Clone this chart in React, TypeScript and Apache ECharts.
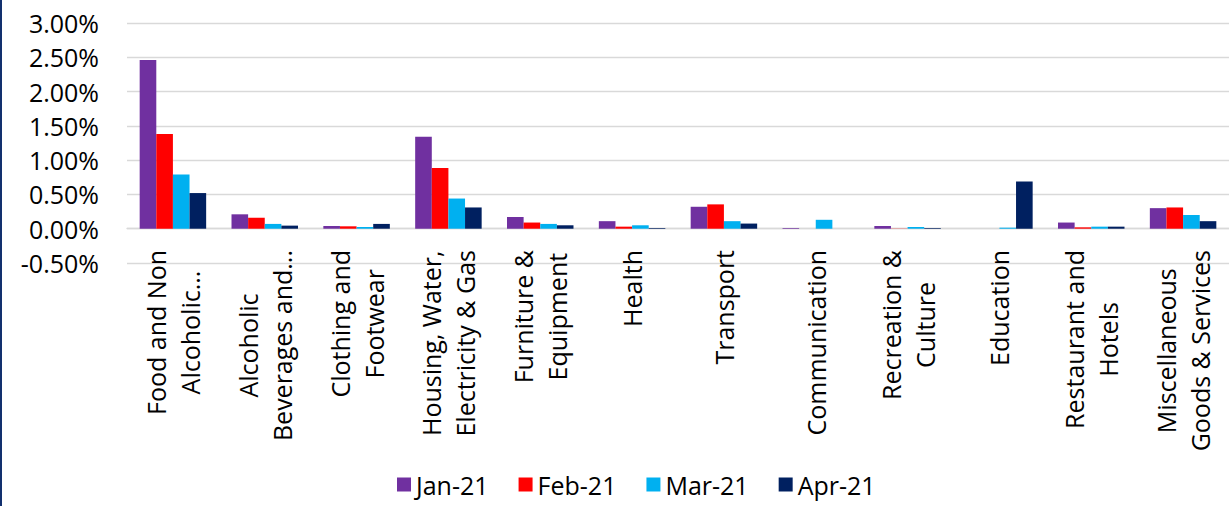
import React, { useEffect, useRef } from "react";
import * as echarts from "echarts";

// Consumer price categories (two-line labels are split on "\n")
const categories: string[] = [
  "Food and Non\nAlcoholic...",
  "Alcoholic\nBeverages and...",
  "Clothing and\nFootwear",
  "Housing, Water,\nElectricity & Gas",
  "Furniture &\nEquipment",
  "Health",
  "Transport",
  "Communication",
  "Recreation &\nCulture",
  "Education",
  "Restaurant and\nHotels",
  "Miscellaneous\nGoods & Services",
];

// Monthly change, in percent
const jan21: number[] = [2.46, 0.21, 0.04, 1.34, 0.17, 0.11, 0.32, 0.01, 0.04, 0, 0.09, 0.3];
const feb21: number[] = [1.38, 0.16, 0.035, 0.885, 0.09, 0.03, 0.355, 0, 0.003, 0, 0.02, 0.31];
const mar21: number[] = [0.79, 0.07, 0.025, 0.44, 0.07, 0.05, 0.11, 0.13, 0.025, 0.015, 0.03, 0.2];
const apr21: number[] = [0.52, 0.045, 0.07, 0.31, 0.05, 0.01, 0.075, 0, 0.01, 0.69, 0.03, 0.11];

const seriesNames: string[] = ["Jan-21", "Feb-21", "Mar-21", "Apr-21"];
const seriesColors: string[] = ["#7030A0", "#FF0000", "#00B0F0", "#002060"];

const FONT = "'Open Sans', 'Noto Sans', sans-serif";

export default function App() {
  const ref = useRef<HTMLDivElement>(null);

  useEffect(() => {
    if (!ref.current) return;
    const chart = echarts.init(ref.current, null, { renderer: "svg" });
    const values = [jan21, feb21, mar21, apr21];

    chart.setOption({
      animation: false,
      backgroundColor: "#ffffff",
      textStyle: { fontFamily: FONT },
      grid: { left: 127, top: 23, width: 1116, height: 240, containLabel: false },
      legend: {
        left: 392,
        top: 467,
        itemWidth: 14,
        itemHeight: 14,
        itemGap: 30,
        icon: "rect",
        data: seriesNames,
        textStyle: { fontFamily: FONT, fontSize: 25, color: "#000000" },
      },
      xAxis: {
        type: "category",
        data: categories,
        axisLine: { show: true, onZero: true, lineStyle: { color: "#d9d9d9", width: 1.3 } },
        axisTick: { show: false },
        axisLabel: {
          interval: 0,
          rotate: 90,
          margin: -13,
          color: "#000000",
          fontFamily: FONT,
          fontSize: 25,
          lineHeight: 34,
          formatter: (v: string) =>
            v
              .split("\n")
              .map((line) => `{c|${line}}`)
              .join("\n"),
          rich: {
            c: { align: "center", fontFamily: FONT, fontSize: 25, lineHeight: 34, color: "#000000" },
          },
        },
      },
      yAxis: {
        type: "value",
        min: -0.5,
        max: 3,
        interval: 0.5,
        axisLine: { show: false },
        axisTick: { show: false },
        splitLine: { lineStyle: { color: "#d9d9d9", width: 1.3 } },
        axisLabel: {
          margin: 28,
          color: "#000000",
          fontFamily: FONT,
          fontSize: 25,
          formatter: (v: number) => `${v.toFixed(2)}%`,
        },
      },
      series: seriesNames.map((name, i) => ({
        name,
        type: "bar",
        data: values[i],
        barGap: "0%",
        barCategoryGap: "27.6%",
        itemStyle: { color: seriesColors[i] },
      })),
      graphic: [
        {
          type: "rect",
          left: 0,
          top: 0,
          shape: { width: 2, height: 506 },
          style: { fill: "#12306e" },
        },
      ],
    });

    return () => chart.dispose();
  }, []);

  return (
    <div
      ref={ref}
      style={{ position: "fixed", left: 0, top: 0, width: 1229, height: 506 }}
    />
  );
}
